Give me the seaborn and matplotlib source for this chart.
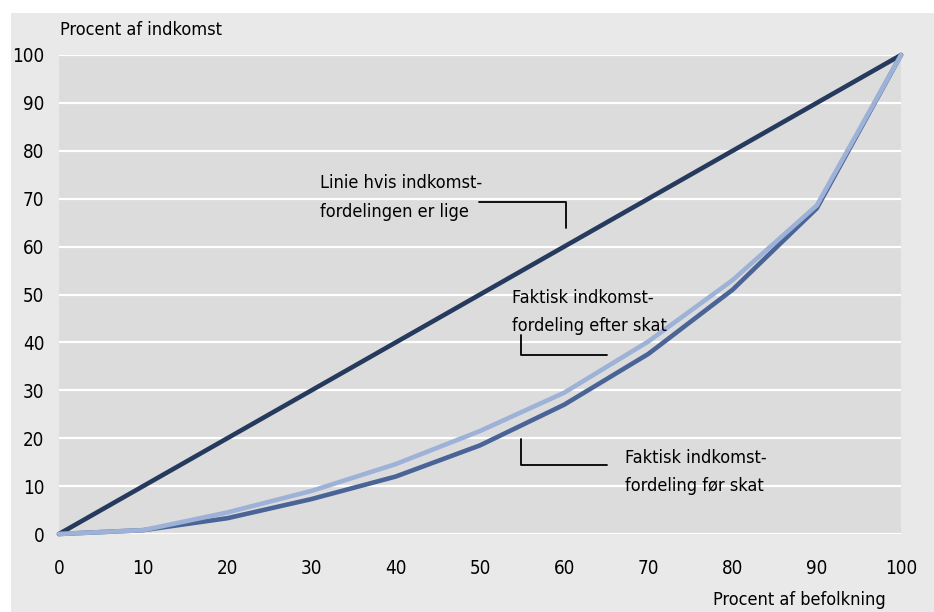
import matplotlib
matplotlib.use("Agg")
import matplotlib.pyplot as plt
import seaborn as sns
import pandas as pd
from matplotlib.patches import Rectangle

# data
befolkning = [0, 10, 20, 30, 40, 50, 60, 70, 80, 90, 100]
lige = [0, 10, 20, 30, 40, 50, 60, 70, 80, 90, 100]
foer_skat = [0, 0.8, 3.3, 7.3, 12.0, 18.5, 27.0, 37.6, 51.0, 68.0, 100]
efter_skat = [0, 0.8, 4.5, 9.0, 14.6, 21.5, 29.5, 40.2, 53.0, 68.6, 100]
yticks = [0, 10, 20, 30, 40, 50, 60, 70, 80, 90, 100]
xticks = [0, 10, 20, 30, 40, 50, 60, 70, 80, 90, 100]

df = pd.DataFrame({"befolkning": befolkning, "lige": lige,
                   "foer": foer_skat, "efter": efter_skat})

sns.set_style("white", {"axes.facecolor": "#dcdcdc"})
plt.rcParams["font.family"] = ["DejaVu Sans"]
plt.rcParams["font.stretch"] = "condensed"
plt.rcParams["text.color"] = "black"
plt.rcParams["xtick.color"] = "black"
plt.rcParams["ytick.color"] = "black"

fig = plt.figure(figsize=(9.34, 6.12), dpi=100, facecolor="#e9e9e9")
# white strips along top and left edge
fig.patches.append(Rectangle((0, 1 - 13 / 612), 1, 13 / 612, transform=fig.transFigure,
                             facecolor="white", edgecolor="none", zorder=0))
fig.patches.append(Rectangle((0, 0), 11 / 934, 1, transform=fig.transFigure,
                             facecolor="white", edgecolor="none", zorder=0))

ax = fig.add_axes([59 / 934, 78 / 612, 842 / 934, 479 / 612])
ax.set_facecolor("#dcdcdc")

sns.lineplot(data=df, x="befolkning", y="lige", ax=ax, color="#253a5c", lw=3.3, clip_on=False)
sns.lineplot(data=df, x="befolkning", y="foer", ax=ax, color="#4a6497", lw=3.3, clip_on=False)
sns.lineplot(data=df, x="befolkning", y="efter", ax=ax, color="#9eb2d7", lw=3.3, clip_on=False)

ax.set_xlim(0, 100)
ax.set_ylim(0, 100)
ax.set_yticks(yticks)
ax.set_xticks(xticks)
ax.tick_params(length=0, labelsize=13.5)
ax.tick_params(axis="y", pad=10.5)
ax.tick_params(axis="x", pad=18)
ax.yaxis.grid(True, color="white", lw=1.6)
ax.set_axisbelow(True)
for s in ax.spines.values():
    s.set_visible(False)
ax.set_xlabel("")
ax.set_ylabel("")

fig.text(60 / 934, 1 - 30 / 612, "Procent af indkomst", fontsize=13, va="center", ha="left")
fig.text(886 / 934, 1 - 600 / 612, "Procent af befolkning", fontsize=13, va="center", ha="right")

# labels with leader lines
ax.text(31.0, 70.3, "Linie hvis indkomst-\nfordelingen er lige", fontsize=13,
        va="center", ha="left", linespacing=1.75)
ax.plot([49.9, 60.2, 60.2], [69.3, 69.3, 63.9], color="black", lw=1.3)

ax.text(53.8, 46.3, "Faktisk indkomst-\nfordeling efter skat", fontsize=13,
        va="center", ha="left", linespacing=1.75)
ax.plot([54.9, 54.9, 65.1], [41.5, 37.4, 37.4], color="black", lw=1.3)

ax.text(67.2, 12.9, "Faktisk indkomst-\nfordeling før skat", fontsize=13,
        va="center", ha="left", linespacing=1.75)
ax.plot([54.9, 54.9, 65.1], [19.8, 14.4, 14.4], color="black", lw=1.3)

fig.savefig("out.png", dpi=100, facecolor=fig.get_facecolor())
